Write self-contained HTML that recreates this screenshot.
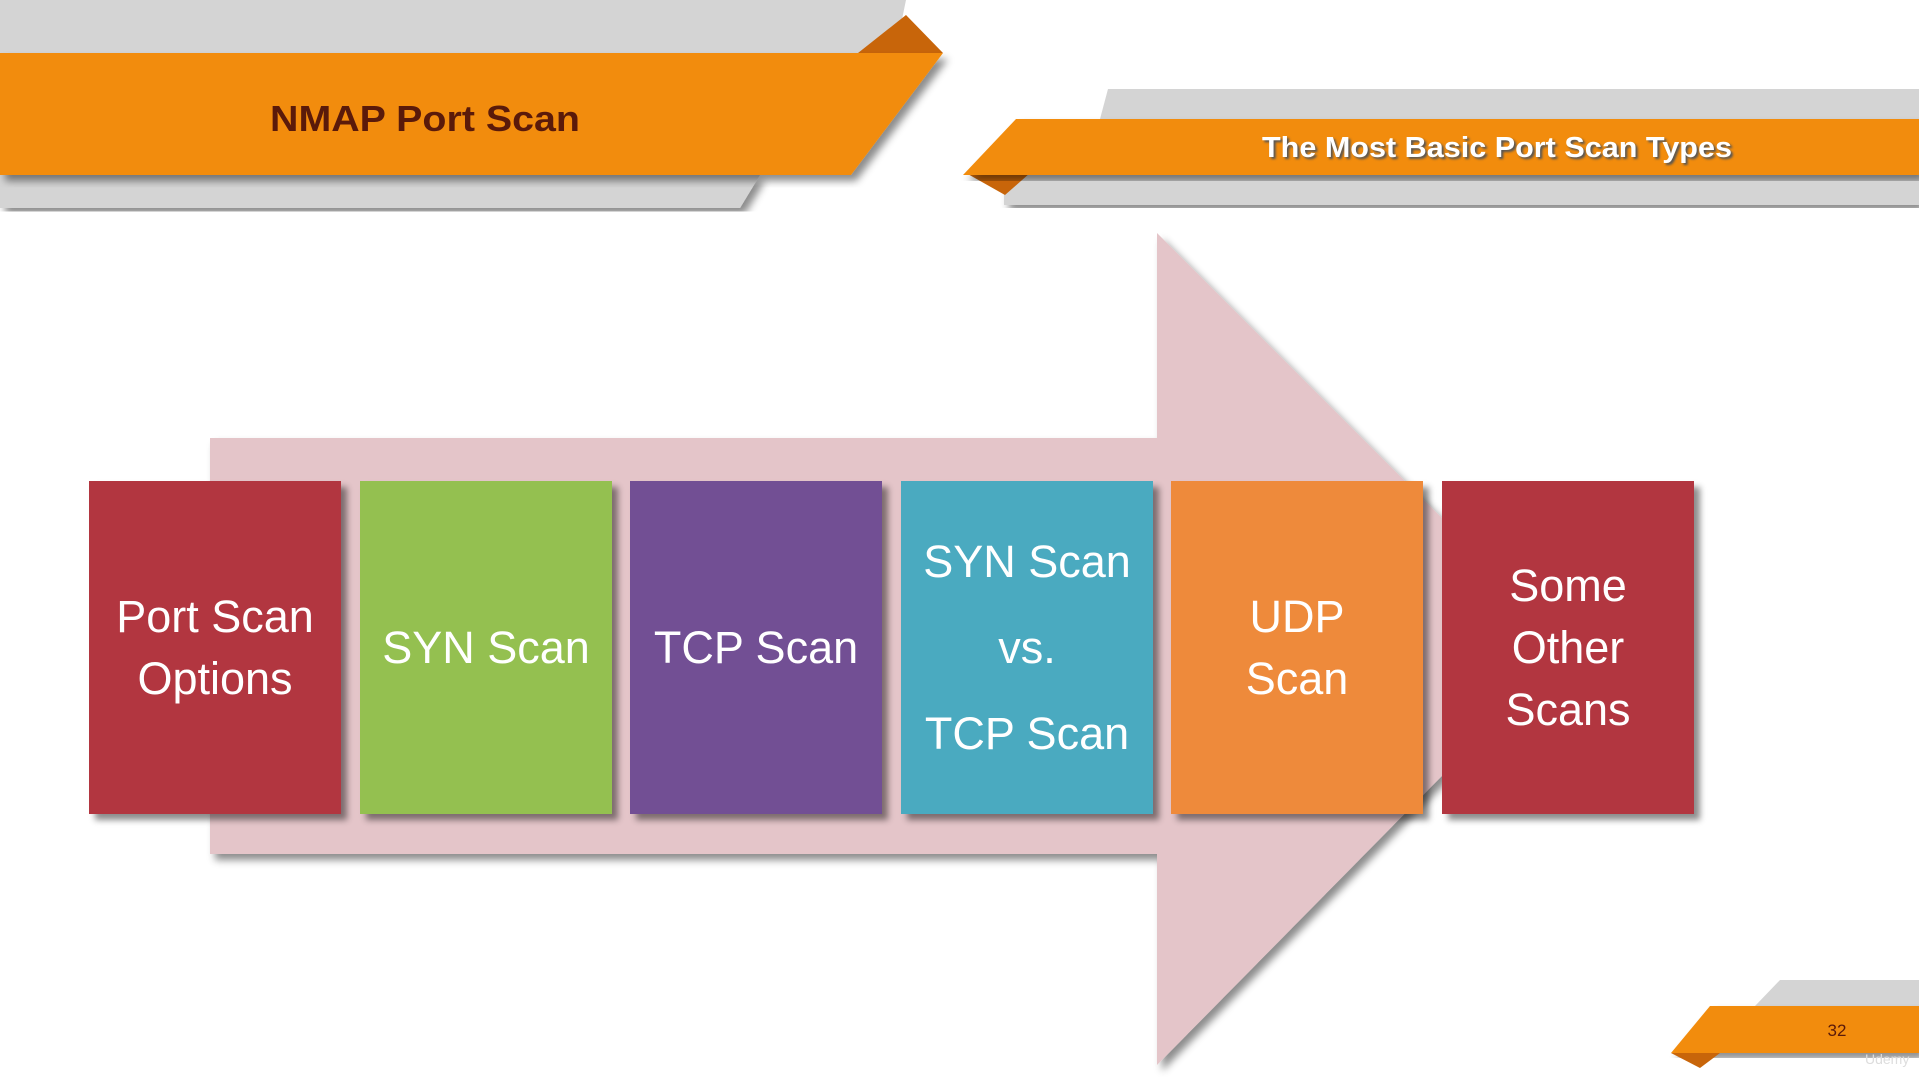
<!DOCTYPE html>
<html><head><meta charset="utf-8"><style>
html,body{margin:0;padding:0;background:#fff;}
body{width:1919px;height:1079px;position:relative;overflow:hidden;font-family:"Liberation Sans",sans-serif;}
.box{position:absolute;top:481px;width:252px;height:333px;display:flex;align-items:center;justify-content:center;text-align:center;color:#fff;font-size:45px;line-height:62px;box-shadow:6px 6px 6px rgba(0,0,0,0.45);}
</style></head><body>
<svg width="1919" height="1079" style="position:absolute;left:0;top:0">
<defs><filter id="sh" x="-5%" y="-5%" width="110%" height="115%"><feDropShadow dx="5" dy="6" stdDeviation="4" flood-color="#000" flood-opacity="0.45"/></filter></defs>
<!-- top left banner -->
<polygon points="0,0 906,0 895,53 0,53" fill="#d4d4d4"/>
<polygon points="0,175 760,175 740,208 0,208" fill="#d4d4d4" filter="url(#sh)"/>
<polygon points="858,53 906,15 943,53" fill="#c8650a"/>
<polygon points="0,53 943,53 851,175 0,175" fill="#f28c0c" filter="url(#sh)"/>
<!-- top right banner -->
<polygon points="1108,89 1919,89 1919,119 1100,119" fill="#d4d4d4"/>
<polygon points="1004,175 1919,175 1919,205 1004,205" fill="#d4d4d4" filter="url(#sh)"/>
<polygon points="966,173 1030,173 1005,195" fill="#c8650a"/>
<polygon points="1016,119 1919,119 1919,175 963,175" fill="#f28c0c" filter="url(#sh)"/>
<!-- arrow -->
<polygon points="210,438 1157,438 1157,233 1570,646 1157,1065 1157,854 210,854" fill="#e4c5c9" filter="url(#sh)"/>
<!-- bottom right -->
<polygon points="1780,980 1919,980 1919,1006 1755,1006" fill="#d4d4d4"/>
<polygon points="1710,1006 1919,1006 1919,1053 1671,1053" fill="#f28c0c" filter="url(#sh)"/>
<polygon points="1671,1053 1720,1053 1700,1068" fill="#c8650a"/>
<text x="425" y="131" text-anchor="middle" font-family="Liberation Sans" font-weight="bold" font-size="36" fill="#5a1a0a" textLength="310" lengthAdjust="spacingAndGlyphs">NMAP Port Scan</text>
<text x="1497" y="157" text-anchor="middle" font-family="Liberation Sans" font-weight="bold" font-size="29" fill="#fff" style="text-shadow:2px 2px 2px #555" textLength="470" lengthAdjust="spacingAndGlyphs">The Most Basic Port Scan Types</text>
<text x="1837" y="1036" text-anchor="middle" font-family="Liberation Sans" font-size="17" fill="#5a1a0a">32</text>
<text x="1865" y="1064" font-family="Liberation Sans" font-size="14" fill="#ddd">Udemy</text>
</svg>
<div class="box" style="left:89px;background:#b23640">Port Scan<br>Options</div>
<div class="box" style="left:360px;background:#94c050">SYN Scan</div>
<div class="box" style="left:630px;background:#724f94">TCP Scan</div>
<div class="box" style="left:901px;background:#4aaac0;line-height:86px">SYN Scan<br>vs.<br>TCP Scan</div>
<div class="box" style="left:1171px;background:#ee8a3b">UDP<br>Scan</div>
<div class="box" style="left:1442px;background:#b23640">Some<br>Other<br>Scans</div>
</body></html>
